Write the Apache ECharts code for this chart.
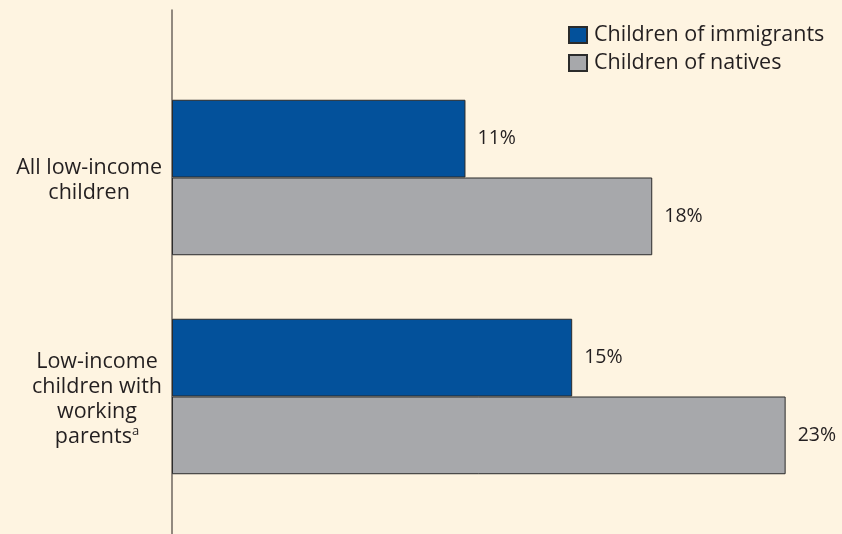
<!DOCTYPE html>
<html><head><meta charset="utf-8">
<script src="https://cdn.jsdelivr.net/npm/echarts@6/dist/echarts.min.js"></script>
<style>html,body{margin:0;padding:0;background:#fef4e1;}#c{width:842px;height:534px;}</style>
</head><body><div id="c"></div>
<script>
const categories = ['All low-income\nchildren', 'Low-income\nchildren with\nworking\nparents^a'];
const seriesNames = ['Children of immigrants', 'Children of natives'];
const immigrants = [11, 15];
const natives = [18, 23];

const FONT = '"Open Sans", sans-serif';
const TXT = '#231f20';

function fmtCat(v) {
  return v.split('\n').map(function (line) {
    if (line.indexOf('^') >= 0) {
      const p = line.split('^');
      return '{c|' + p[0] + '}{s|' + p[1] + '}';
    }
    return '{c|' + line + '}';
  }).join('\n');
}

const chart = echarts.init(document.getElementById('c'));
chart.setOption({
  backgroundColor: '#fef4e1',
  animation: false,
  textStyle: { fontFamily: FONT },
  legend: {
    orient: 'vertical', left: 568, top: 24, itemGap: 6, padding: 0,
    itemWidth: 18, itemHeight: 16, icon: 'rect',
    textStyle: { fontSize: 21.5, lineHeight: 22, color: TXT, fontFamily: FONT, padding: [0, 0, 0, 2] },
    data: seriesNames
  },
  grid: [
    { left: 172, right: 3, top: 68, bottom: 28 },
    { left: 172, width: 1, top: 10, bottom: 0 }
  ],
  xAxis: [
    { type: 'value', min: 0, max: 25, show: false },
    { type: 'value', gridIndex: 1, show: false }
  ],
  yAxis: [
    {
      type: 'category', inverse: true, data: categories,
      axisLine: { show: false }, axisTick: { show: false },
      axisLabel: {
        align: 'right', margin: 10, formatter: fmtCat, padding: [6, 0, 0, 0],
        rich: {
          c: { fontSize: 21.5, lineHeight: 25, color: TXT, align: 'center', fontFamily: FONT },
          s: { fontSize: 13, lineHeight: 25, color: TXT, align: 'center', verticalAlign: 'top', fontFamily: FONT }
        }
      }
    },
    {
      type: 'value', gridIndex: 1,
      axisLine: { show: true, lineStyle: { color: '#6e665e', width: 1.5 } },
      axisTick: { show: false }, axisLabel: { show: false }, splitLine: { show: false }
    }
  ],
  series: [
    {
      name: seriesNames[0], type: 'bar', data: immigrants,
      barGap: 0, barCategoryGap: '29%',
      itemStyle: { color: '#03519b', borderColor: '#2b2b2b', borderWidth: 1 },
      label: { show: true, position: 'right', distance: 12, formatter: '{c}%', fontSize: 19.5, color: TXT, fontFamily: FONT, padding: [6, 0, 0, 0] }
    },
    {
      name: seriesNames[1], type: 'bar', data: natives,
      barGap: 0, barCategoryGap: '29%',
      itemStyle: { color: '#a7a8ab', borderColor: '#2b2b2b', borderWidth: 1 },
      label: { show: true, position: 'right', distance: 12, formatter: '{c}%', fontSize: 19.5, color: TXT, fontFamily: FONT, padding: [6, 0, 0, 0] }
    }
  ]
});
</script></body></html>
